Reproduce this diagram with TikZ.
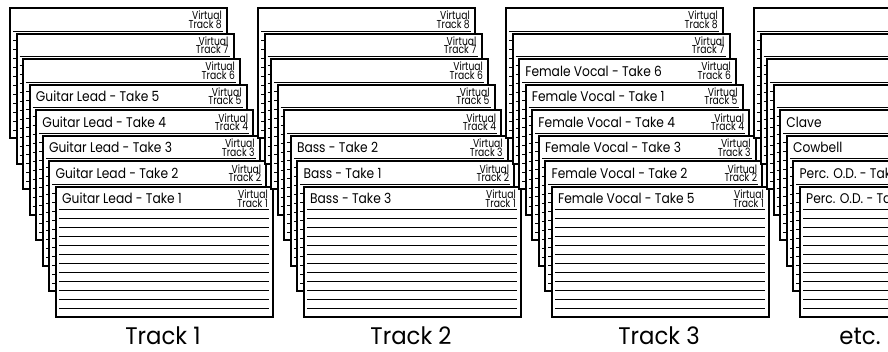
\documentclass[tikz,border=0pt]{standalone}
\usepackage{fontspec}
\setmainfont{Poppins}
\newfontfamily\titlefont[FakeStretch=0.875]{Poppins}
\newfontfamily\vtfont[FakeStretch=0.8]{Poppins}
\newfontfamily\labelfont[FakeStretch=0.95]{Poppins}
\usetikzlibrary{calc}
\newcommand\drawcard[4]{%
  \pgfmathsetmacro\cardleft{10+248*#1+6.57*(8-#2)}%
  \pgfmathsetmacro\cardtop{8+25.57*(8-#2)}%
  \coordinate (c#1-#2) at (\cardleft,\cardtop);
  \draw[cardbox] (c#1-#2) rectangle ++(217,130);
  \foreach \i in {0,...,11} \draw[rule] ($(c#1-#2)+(3,23+9*\i)$) -- ++(210,0);
  \node[title] (t#1-#2) at ($(c#1-#2)+(6,17)$) {#3};
  \ifnum#4=1
    \node[vt] (va#1-#2) at ($(c#1-#2)+(212,11.8)$) {Virtual};
    \node[vt] (vb#1-#2) at ($(c#1-#2)+(212,20.2)$) {Track #2};
  \fi
}
\begin{document}
\begin{tikzpicture}[x=1pt,y=-1pt,
  cardbox/.style={draw=black,line width=2pt,fill=white},
  rule/.style={line width=1pt},
  title/.style={anchor=base west,inner sep=0pt,font=\titlefont\fontsize{14}{14}\selectfont},
  vt/.style={anchor=base east,inner sep=0pt,font=\vtfont\fontsize{11.5}{11.5}\selectfont},
  tracklabel/.style={anchor=base,inner sep=0pt,font=\labelfont\fontsize{24}{24}\selectfont}]
\useasboundingbox (0,0) rectangle (888,351);
% Track 1
\drawcard{0}{8}{}{1}
\drawcard{0}{7}{}{1}
\drawcard{0}{6}{}{1}
\drawcard{0}{5}{Guitar Lead - Take 5}{1}
\drawcard{0}{4}{Guitar Lead - Take 4}{1}
\drawcard{0}{3}{Guitar Lead - Take 3}{1}
\drawcard{0}{2}{Guitar Lead - Take 2}{1}
\drawcard{0}{1}{Guitar Lead - Take 1}{1}
% Track 2
\drawcard{1}{8}{}{1}
\drawcard{1}{7}{}{1}
\drawcard{1}{6}{}{1}
\drawcard{1}{5}{}{1}
\drawcard{1}{4}{}{1}
\drawcard{1}{3}{Bass - Take 2}{1}
\drawcard{1}{2}{Bass - Take 1}{1}
\drawcard{1}{1}{Bass - Take 3}{1}
% Track 3
\drawcard{2}{8}{}{1}
\drawcard{2}{7}{}{1}
\drawcard{2}{6}{Female Vocal - Take 6}{1}
\drawcard{2}{5}{Female Vocal - Take 1}{1}
\drawcard{2}{4}{Female Vocal - Take 4}{1}
\drawcard{2}{3}{Female Vocal - Take 3}{1}
\drawcard{2}{2}{Female Vocal - Take 2}{1}
\drawcard{2}{1}{Female Vocal - Take 5}{1}
% Track 4
\drawcard{3}{8}{}{0}
\drawcard{3}{7}{}{0}
\drawcard{3}{6}{}{0}
\drawcard{3}{5}{}{0}
\drawcard{3}{4}{Clave}{0}
\drawcard{3}{3}{Cowbell}{0}
\drawcard{3}{2}{Perc. O.D. - Take 2}{0}
\drawcard{3}{1}{Perc. O.D. - Take 1}{0}
% labels
\node[tracklabel] (l1) at (163,344) {Track 1};
\node[tracklabel] (l2) at (411,344) {Track 2};
\node[tracklabel] (l3) at (659,344) {Track 3};
\node[tracklabel] (l4) at (860,344) {etc.};
\end{tikzpicture}
\end{document}
